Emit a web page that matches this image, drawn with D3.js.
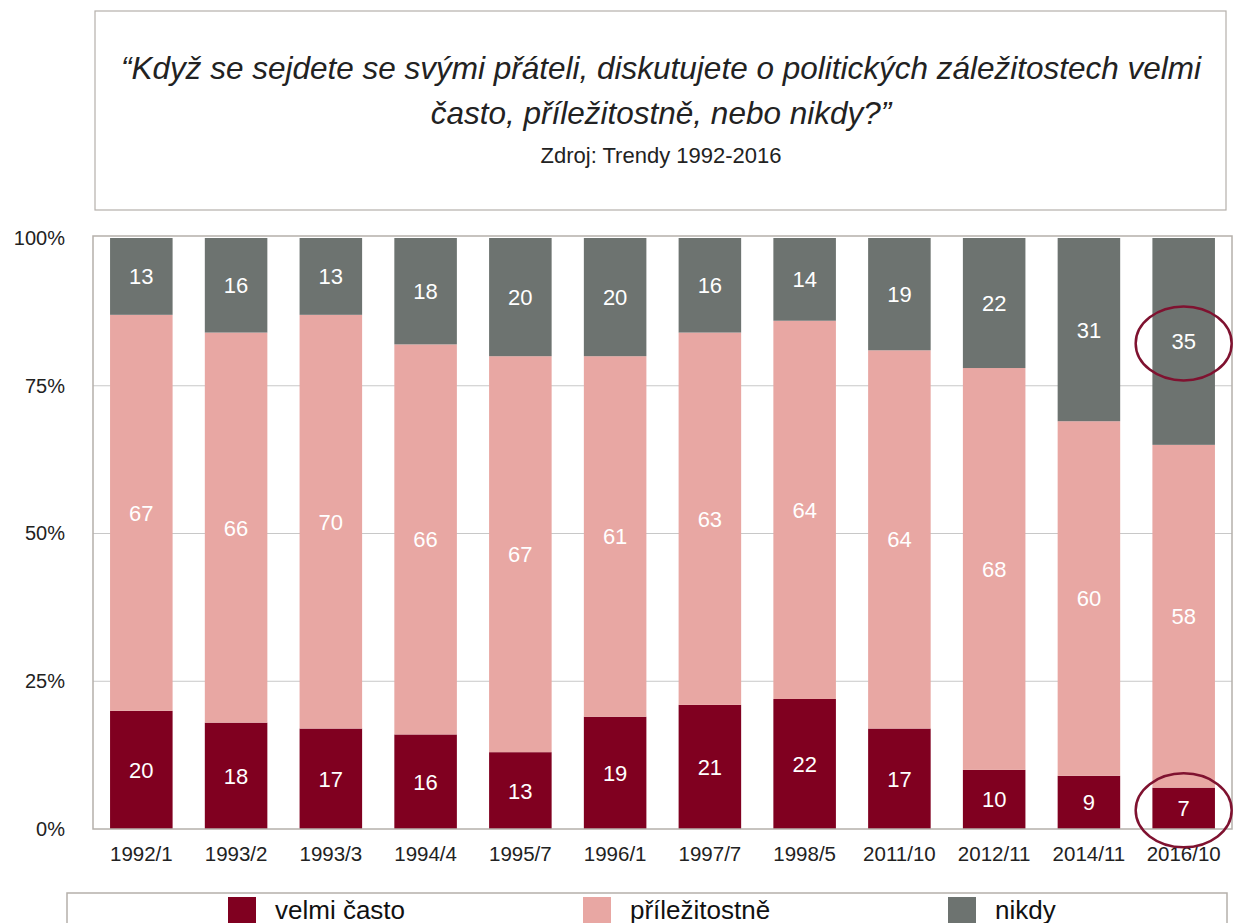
<!DOCTYPE html>
<html>
<head>
<meta charset="utf-8">
<script src="https://cdn.jsdelivr.net/npm/d3@7"></script>
<style>
  body { margin: 0; background: #fff; }
  svg { font-family: "Liberation Sans", Arial, sans-serif; display: block; }
</style>
</head>
<body>
<div id="chart"></div>
<script>
const categories = ['1992/1', '1993/2', '1993/3', '1994/4', '1995/7', '1996/1', '1997/7', '1998/5', '2011/10', '2012/11', '2014/11', '2016/10'];
const velmiCasto = [20, 18, 17, 16, 13, 19, 21, 22, 17, 10, 9, 7];
const prilezitostne = [67, 66, 70, 66, 67, 61, 63, 64, 64, 68, 60, 58];
const nikdy = [13, 16, 13, 18, 20, 20, 16, 14, 19, 22, 31, 35];
const seriesNames = ['velmi často', 'příležitostně', 'nikdy'];
const yTicks = [0, 25, 50, 75, 100];
const highlighted = [[11, 'nikdy'], [11, 'velmiCasto']];

const width = 1234, height = 923;
const colors = { velmiCasto: '#800020', prilezitostne: '#E8A7A3', nikdy: '#6D7370' };
const keys = ['velmiCasto', 'prilezitostne', 'nikdy'];

const svg = d3.select('#chart').append('svg')
    .attr('width', width)
    .attr('height', height);

// title box
svg.append('rect')
    .attr('x', 95).attr('y', 11).attr('width', 1131).attr('height', 199)
    .attr('fill', 'none').attr('stroke', '#b5b0ab').attr('stroke-width', 1.2);

const titleLines = ['\u201CKdyž se sejdete se svými přáteli, diskutujete o politických záležitostech velmi', 'často, příležitostně, nebo nikdy?\u201D'];
svg.selectAll('.title')
    .data(titleLines)
    .enter().append('text')
    .attr('class', 'title')
    .attr('x', 661)
    .attr('y', (d, i) => 79 + i * 45)
    .attr('text-anchor', 'middle')
    .style('font-size', '31.5px')
    .style('font-style', 'italic')
    .style('fill', '#222')
    .text(d => d);

svg.append('text')
    .attr('x', 661).attr('y', 163)
    .attr('text-anchor', 'middle')
    .style('font-size', '22px')
    .style('fill', '#222')
    .text('Zdroj: Trendy 1992-2016');

const data = categories.map((c, i) => ({
    cat: c,
    velmiCasto: velmiCasto[i],
    prilezitostne: prilezitostne[i],
    nikdy: nikdy[i]
}));

const x = d3.scaleBand()
    .domain(categories)
    .range([93, 1232])
    .paddingInner(0.34)
    .paddingOuter(0.18);

const y = d3.scaleLinear()
    .domain([0, 100])
    .range([829, 238]);

// gridlines
svg.append('g')
    .selectAll('line')
    .data(yTicks.filter(t => t > 0 && t < 100))
    .enter().append('line')
    .attr('x1', 93).attr('x2', 1232)
    .attr('y1', d => y(d)).attr('y2', d => y(d))
    .attr('stroke', '#c8c8c8').attr('stroke-width', 1);

const stacked = d3.stack().keys(keys)(data);

const layers = svg.selectAll('.layer')
    .data(stacked)
    .enter().append('g')
    .attr('class', 'layer')
    .style('fill', d => colors[d.key]);

layers.selectAll('rect')
    .data(d => d)
    .enter().append('rect')
    .attr('x', d => x(d.data.cat))
    .attr('y', d => y(d[1]))
    .attr('width', x.bandwidth())
    .attr('height', d => y(d[0]) - y(d[1]));

layers.selectAll('text')
    .data(d => d.map(v => ({ v, key: d.key })))
    .enter().append('text')
    .attr('x', d => x(d.v.data.cat) + x.bandwidth() / 2)
    .attr('y', d => (y(d.v[0]) + y(d.v[1])) / 2)
    .attr('dy', '0.36em')
    .attr('text-anchor', 'middle')
    .style('fill', '#fff')
    .style('font-size', '22px')
    .text(d => d.v.data[d.key]);

// plot frame
svg.append('rect')
    .attr('x', 93).attr('y', 236).attr('width', 1139).attr('height', 593)
    .attr('fill', 'none').attr('stroke', '#b5b0ab').attr('stroke-width', 1.5);

// y axis labels
const yAxis = d3.axisLeft(y).tickValues(yTicks).tickFormat(d => d + '%').tickSize(0).tickPadding(0);
const yg = svg.append('g').attr('transform', 'translate(65,0)').call(yAxis);
yg.select('.domain').remove();
yg.selectAll('text').style('font-size', '20px').style('fill', '#222').style('font-family', '"Liberation Sans", Arial, sans-serif');

// x axis labels
const xAxis = d3.axisBottom(x).tickSize(0).tickPadding(0);
const xg = svg.append('g').attr('transform', 'translate(0,846)').call(xAxis);
xg.select('.domain').remove();
xg.selectAll('text').style('font-size', '20.5px').style('fill', '#222').style('font-family', '"Liberation Sans", Arial, sans-serif');

// highlight ellipses
svg.selectAll('.hl')
    .data(highlighted)
    .enter().append('ellipse')
    .attr('class', 'hl')
    .attr('cx', d => x(categories[d[0]]) + x.bandwidth() / 2)
    .attr('cy', d => {
        const s = stacked.find(l => l.key === d[1])[d[0]];
        return (y(s[0]) + y(s[1])) / 2 + 2;
    })
    .attr('rx', 48).attr('ry', 37)
    .attr('fill', 'none')
    .attr('stroke', '#7f1230')
    .attr('stroke-width', 2.5);

// legend
svg.append('rect')
    .attr('x', 67).attr('y', 893).attr('width', 1160).attr('height', 60)
    .attr('fill', 'none').attr('stroke', '#b5b0ab').attr('stroke-width', 1.5);

const legendX = [228, 583, 948];
const lg = svg.selectAll('.legend')
    .data(keys)
    .enter().append('g')
    .attr('class', 'legend')
    .attr('transform', (d, i) => `translate(${legendX[i]},897)`);

lg.append('rect')
    .attr('width', 28).attr('height', 28)
    .style('fill', d => colors[d]);

lg.append('text')
    .attr('x', 47).attr('y', 22)
    .style('font-size', '26px')
    .style('fill', '#111')
    .text((d, i) => seriesNames[i]);
</script>
</body>
</html>
